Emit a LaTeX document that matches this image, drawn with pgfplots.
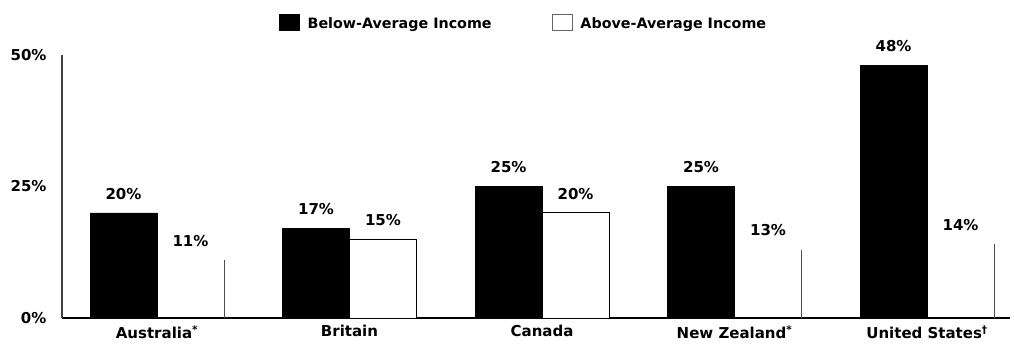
\documentclass[border=0pt]{standalone}
\usepackage{fontspec}
\setmainfont{DejaVu Sans}
\usepackage{pgfplots}
\pgfplotsset{compat=1.18}
\pgfplotstableread{
x below above
0 20 11
1 17 15
2 25 20
3 25 13
4 48 14
}\datatable
\pgfplotstableread{
x above
1 15
2 20
}\outlined
\pgfplotstableread{
x above
0.348 11
3.348 13
4.348 14
}\edges
\begin{document}
\begin{tikzpicture}[font=\fontsize{15}{17}\selectfont\bfseries]
\begin{axis}[name=ax, scale only axis, width=948pt, height=263pt,
  xmin=-0.4935, xmax=4.431, ymin=0, ymax=50,
  axis x line=bottom, axis y line=left, axis line style={-},
  x axis line style={line width=2pt},
  y axis line style={line width=1.3pt, black!75},
  ytick={0,25,50}, yticklabels={0\%,25\%,50\%},
  xtick={0,1,2,3,4},
  xticklabels={Australia\textsuperscript{*},Britain,Canada,New Zealand\textsuperscript{*},United States\textsuperscript{†}},
  major tick length=0pt,
  yticklabel style={xshift=-12pt},
  xticklabel style={yshift=-4pt},
  /pgf/number format/assume math mode=true,
  ybar, bar width=0.348,
  every node near coord/.append style={font=\fontsize{15}{17}\selectfont\bfseries},
  legend style={at={(0.487,1)}, anchor=south, yshift=21pt, draw=none, fill=none,
    legend columns=2, /tikz/every even column/.append style={column sep=58pt},
    font=\fontsize{14.3}{16}\selectfont\bfseries},
  legend image code/.code={\draw[#1] (0pt,-7pt) rectangle (20pt,9pt); \path (26pt,0pt);},
]
\addlegendimage{fill=black, draw=black}
\addlegendimage{fill=white, draw=black!60, line width=0.8pt}
\addplot[fill=none, draw=none, bar shift=0.174, forget plot,
  nodes near coords={\pgfmathprintnumber{\pgfplotspointmeta}\%},
  nodes near coords style={yshift=10pt}] table[x=x,y=above] {\datatable};
\addplot[fill=black, draw=black, bar shift=-0.174, forget plot,
  nodes near coords={\pgfmathprintnumber{\pgfplotspointmeta}\%},
  nodes near coords style={yshift=10pt}] table[x=x,y=below] {\datatable};
\addplot[fill=white, draw=black, line width=1pt, bar shift=0.174, forget plot] table[x=x,y=above] {\outlined};
\addplot[ycomb, draw=black!70, line width=0.8pt, mark=none, forget plot] table[x=x,y=above] {\edges};
\legend{Below-Average Income, Above-Average Income}
\end{axis}
\path (ax.south west) ++(-62pt,-31pt) rectangle ++(1014pt,349pt);
\end{tikzpicture}
\end{document}
